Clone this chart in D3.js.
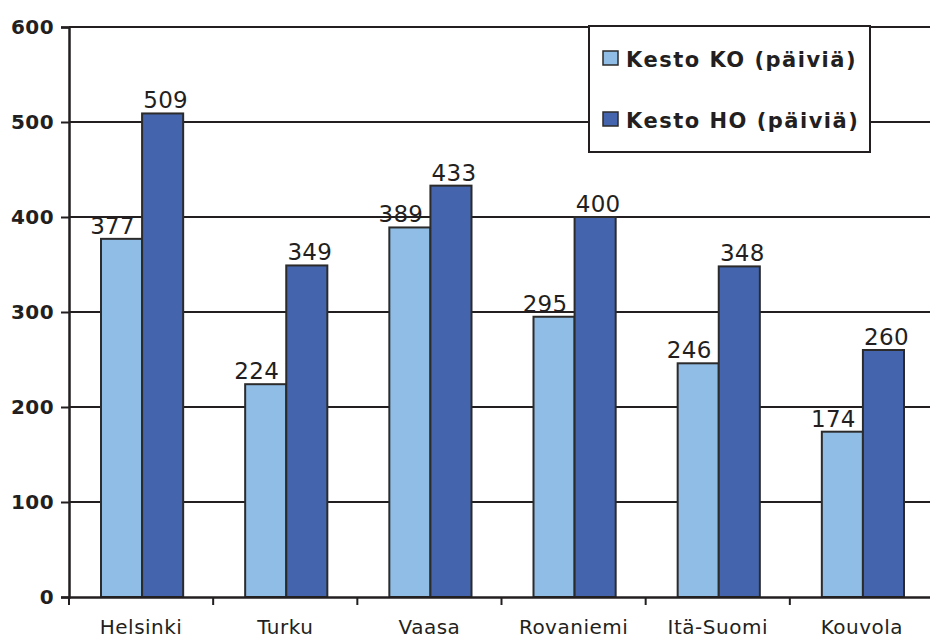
<!DOCTYPE html>
<html>
<head>
<meta charset="utf-8">
<script src="https://cdn.jsdelivr.net/npm/d3@7"></script>
<style>
  body { margin: 0; background: #fff; }
  svg text { font-family: "DejaVu Sans", Verdana, sans-serif; fill: #231f20; }
</style>
</head>
<body>
<svg id="chart"></svg>
<script>
const WIDTH = 930;
const HEIGHT = 639;
const PADDING_LEFT = 69; // y-axis position
const PADDING_TOP = 27; // 600 gridline
const PLOT_WIDTH = 865; // runs a bit past the window edge, like the original
const PLOT_HEIGHT = 570; // 0 at y = 597

const categories = ["Helsinki", "Turku", "Vaasa", "Rovaniemi", "Itä-Suomi", "Kouvola"];
const seriesNames = ["Kesto KO (päiviä)", "Kesto HO (päiviä)"];
const kestoKO = [377, 224, 389, 295, 246, 174];
const kestoHO = [509, 349, 433, 400, 348, 260];
const yTicks = [0, 100, 200, 300, 400, 500, 600];
const colors = ["#8fbde6", "#4465ae"];
const labelShift = [-9, 3]; // labels sit a little off the bar centre in the original

const chart = d3.select("#chart")
  .attr("width", WIDTH)
  .attr("height", HEIGHT);

const xScale = d3.scaleBand()
  .domain(categories)
  .range([0, PLOT_WIDTH])
  .paddingInner(0)
  .paddingOuter(0);

const inner = d3.scaleBand()
  .domain([0, 1])
  .range([32, xScale.bandwidth() - 30]);

const yScale = d3.scaleLinear()
  .domain([0, 600])
  .range([PLOT_HEIGHT, 0]);

const plot = chart.append("g")
  .attr("transform", "translate(" + PADDING_LEFT + "," + PADDING_TOP + ")");

// gridlines
plot.append("g")
  .selectAll("line")
  .data(yTicks.filter(d => d > 0))
  .enter()
  .append("line")
  .attr("x1", 0)
  .attr("x2", PLOT_WIDTH)
  .attr("y1", d => yScale(d))
  .attr("y2", d => yScale(d))
  .attr("stroke", "#231f20")
  .attr("stroke-width", 2);

// bars
const seriesData = [kestoKO, kestoHO];
seriesData.forEach((values, s) => {
  const g = plot.append("g");
  g.selectAll("rect")
    .data(values)
    .enter()
    .append("rect")
    .attr("x", (d, i) => xScale(categories[i]) + inner(s))
    .attr("y", d => yScale(d))
    .attr("width", inner.bandwidth())
    .attr("height", d => PLOT_HEIGHT - yScale(d))
    .attr("fill", colors[s])
    .attr("stroke", "#2b2b2b")
    .attr("stroke-width", 2);

  g.selectAll("text")
    .data(values)
    .enter()
    .append("text")
    .attr("x", (d, i) => xScale(categories[i]) + inner(s) + inner.bandwidth() / 2 + labelShift[s])
    .attr("y", d => yScale(d) - 5)
    .attr("text-anchor", "middle")
    .style("font-size", "23px")
    .style("letter-spacing", "0.3px")
    .text(d => d);
});

// y-axis
const yAxis = d3.axisLeft(yScale)
  .tickValues(yTicks)
  .tickSize(8)
  .tickPadding(7);

const yG = plot.append("g").call(yAxis);
yG.select(".domain").attr("stroke", "#231f20").attr("stroke-width", 2.5);
yG.selectAll(".tick line").attr("stroke", "#231f20").attr("stroke-width", 2);
yG.selectAll(".tick text")
  .style("font-size", "20px")
  .style("font-weight", "bold")
  .style("letter-spacing", "0.4px")
  .attr("fill", "#231f20");

// x-axis
const xAxis = d3.axisBottom(xScale)
  .tickSize(0)
  .tickPadding(23);

const xG = plot.append("g")
  .attr("transform", "translate(0," + PLOT_HEIGHT + ")")
  .call(xAxis);
xG.select(".domain").attr("stroke", "#231f20").attr("stroke-width", 2.5);
xG.selectAll(".tick text")
  .style("font-size", "20px")
  .style("letter-spacing", "0.5px")
  .attr("fill", "#231f20");

// category separators below the axis
xG.append("g")
  .selectAll("line")
  .data(categories)
  .enter()
  .append("line")
  .attr("x1", d => xScale(d))
  .attr("x2", d => xScale(d))
  .attr("y1", 0)
  .attr("y2", 8)
  .attr("stroke", "#231f20")
  .attr("stroke-width", 2);

// legend
const legend = chart.append("g")
  .attr("transform", "translate(589,26)");

legend.append("rect")
  .attr("width", 281)
  .attr("height", 126)
  .attr("fill", "#fff")
  .attr("stroke", "#231f20")
  .attr("stroke-width", 2);

const items = legend.selectAll(".item")
  .data(seriesNames)
  .enter()
  .append("g")
  .attr("transform", (d, i) => "translate(14," + (25 + i * 61) + ")");

items.append("rect")
  .attr("width", 15)
  .attr("height", 14)
  .attr("fill", (d, i) => colors[i])
  .attr("stroke", "#2b2b2b")
  .attr("stroke-width", 1.5);

items.append("text")
  .attr("x", 23)
  .attr("y", 16)
  .style("font-size", "21px")
  .style("font-weight", "bold")
  .style("letter-spacing", "1.5px")
  .text(d => d);
</script>
</body>
</html>
